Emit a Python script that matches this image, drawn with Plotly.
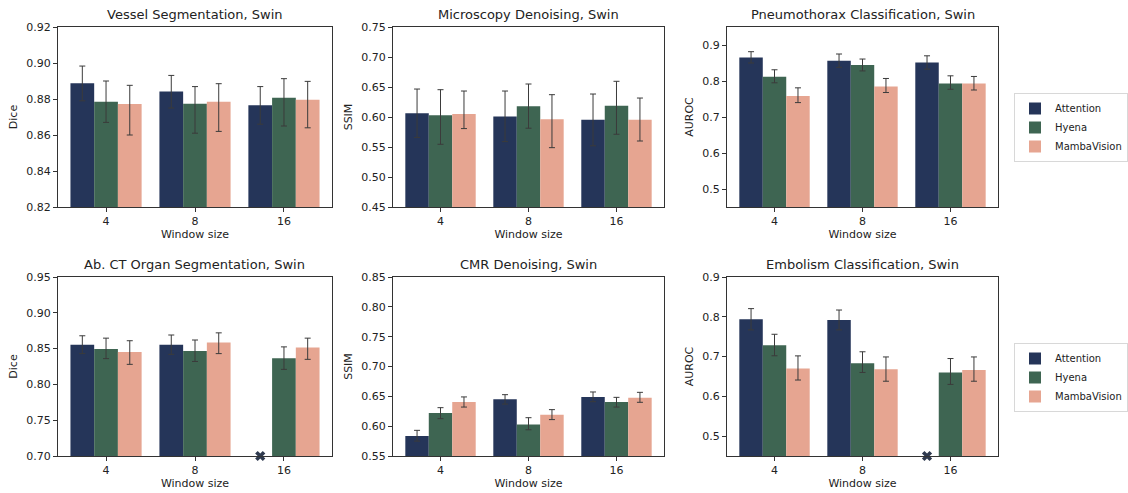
import plotly.graph_objects as go

# ---------------- data ----------------
window_labels = ["4", "8", "16"]
models = ["Attention", "Hyena", "MambaVision"]

titles = [
    "Vessel Segmentation, Swin",
    "Microscopy Denoising, Swin",
    "Pneumothorax Classification, Swin",
    "Ab. CT Organ Segmentation, Swin",
    "CMR Denoising, Swin",
    "Embolism Classification, Swin",
]
y_titles = ["Dice", "SSIM", "AUROC", "Dice", "SSIM", "AUROC"]

# Vessel Segmentation (Dice)
vessel_att = [0.8887, 0.8841, 0.8765]
vessel_hye = [0.8785, 0.8774, 0.8807]
vessel_mam = [0.8772, 0.8785, 0.8796]
vessel_att_hi = [0.8983, 0.8931, 0.8869]
vessel_hye_hi = [0.8900, 0.8869, 0.8913]
vessel_mam_hi = [0.8876, 0.8885, 0.8898]
vessel_att_lo = [0.8790, 0.8750, 0.8660]
vessel_hye_lo = [0.8670, 0.8610, 0.8650]
vessel_mam_lo = [0.8600, 0.8620, 0.8640]

# Microscopy Denoising (SSIM)
micro_att = [0.6064, 0.6008, 0.5953]
micro_hye = [0.6031, 0.6181, 0.6187]
micro_mam = [0.6048, 0.5964, 0.5953]
micro_att_hi = [0.6466, 0.6433, 0.6383]
micro_hye_hi = [0.6455, 0.6550, 0.6595]
micro_mam_hi = [0.6433, 0.6372, 0.6316]
micro_att_lo = [0.5660, 0.5590, 0.5520]
micro_hye_lo = [0.5545, 0.5813, 0.5712]
micro_mam_lo = [0.5807, 0.5489, 0.5600]

# Pneumothorax Classification (AUROC)
pneumo_att = [0.8656, 0.8563, 0.8516]
pneumo_hye = [0.8116, 0.8442, 0.7930]
pneumo_mam = [0.7586, 0.7847, 0.7930]
pneumo_att_hi = [0.8814, 0.8750, 0.8700]
pneumo_hye_hi = [0.8312, 0.8610, 0.8144]
pneumo_mam_hi = [0.7810, 0.8070, 0.8126]
pneumo_att_lo = [0.8500, 0.8380, 0.8330]
pneumo_hye_lo = [0.7950, 0.8280, 0.7770]
pneumo_mam_lo = [0.7400, 0.7680, 0.7750]

# Ab. CT Organ Segmentation (Dice); Attention at 16 missing
abct_att = [0.8553, 0.8553, None]
abct_hye = [0.8496, 0.8468, 0.8365]
abct_mam = [0.8454, 0.8585, 0.8515]
abct_att_hi = [0.8679, 0.8690, None]
abct_hye_hi = [0.8646, 0.8620, 0.8524]
abct_mam_hi = [0.8610, 0.8720, 0.8646]
abct_att_lo = [0.8430, 0.8420, None]
abct_hye_lo = [0.8360, 0.8320, 0.8210]
abct_mam_lo = [0.8280, 0.8430, 0.8350]

# CMR Denoising (SSIM)
cmr_att = [0.5835, 0.6450, 0.6489]
cmr_hye = [0.6220, 0.6030, 0.6405]
cmr_mam = [0.6405, 0.6193, 0.6478]
cmr_att_hi = [0.5930, 0.6528, 0.6573]
cmr_hye_hi = [0.6310, 0.6142, 0.6483]
cmr_mam_hi = [0.6490, 0.6277, 0.6567]
cmr_att_lo = [0.5750, 0.6370, 0.6410]
cmr_hye_lo = [0.6126, 0.5940, 0.6320]
cmr_mam_lo = [0.6320, 0.6110, 0.6400]

# Embolism Classification (AUROC); Attention at 16 missing
embol_att = [0.7937, 0.7920, None]
embol_hye = [0.7285, 0.6833, 0.6598]
embol_mam = [0.6699, 0.6680, 0.6665]
embol_att_hi = [0.8205, 0.8170, None]
embol_hye_hi = [0.7560, 0.7120, 0.6950]
embol_mam_hi = [0.7017, 0.6990, 0.6990]
embol_att_lo = [0.7670, 0.7670, None]
embol_hye_lo = [0.7020, 0.6600, 0.6300]
embol_mam_lo = [0.6410, 0.6380, 0.6380]

y_ranges = [[0.82, 0.92], [0.45, 0.75], [0.45, 0.95], [0.70, 0.95], [0.55, 0.85], [0.45, 0.90]]
y_ticks = [
    [0.82, 0.84, 0.86, 0.88, 0.90, 0.92],
    [0.45, 0.50, 0.55, 0.60, 0.65, 0.70, 0.75],
    [0.5, 0.6, 0.7, 0.8, 0.9],
    [0.70, 0.75, 0.80, 0.85, 0.90, 0.95],
    [0.55, 0.60, 0.65, 0.70, 0.75, 0.80, 0.85],
    [0.5, 0.6, 0.7, 0.8, 0.9],
]
y_formats = [".2f", ".2f", ".1f", ".2f", ".2f", ".1f"]

panels = [
    ([vessel_att, vessel_hye, vessel_mam], [vessel_att_hi, vessel_hye_hi, vessel_mam_hi], [vessel_att_lo, vessel_hye_lo, vessel_mam_lo]),
    ([micro_att, micro_hye, micro_mam], [micro_att_hi, micro_hye_hi, micro_mam_hi], [micro_att_lo, micro_hye_lo, micro_mam_lo]),
    ([pneumo_att, pneumo_hye, pneumo_mam], [pneumo_att_hi, pneumo_hye_hi, pneumo_mam_hi], [pneumo_att_lo, pneumo_hye_lo, pneumo_mam_lo]),
    ([abct_att, abct_hye, abct_mam], [abct_att_hi, abct_hye_hi, abct_mam_hi], [abct_att_lo, abct_hye_lo, abct_mam_lo]),
    ([cmr_att, cmr_hye, cmr_mam], [cmr_att_hi, cmr_hye_hi, cmr_mam_hi], [cmr_att_lo, cmr_hye_lo, cmr_mam_lo]),
    ([embol_att, embol_hye, embol_mam], [embol_att_hi, embol_hye_hi, embol_mam_hi], [embol_att_lo, embol_hye_lo, embol_mam_lo]),
]

# ---------------- style ----------------
colors = ["#253559", "#3e6552", "#e6a591"]
err_color = "#3b3b3b"
axis_color = "#333333"
font_family = "DejaVu Sans"

W, H = 1128, 493
col_px = [(58, 332), (393, 664), (727, 998)]
row_px = [(27, 207), (277, 456)]
group_width = 0.8

fig = go.Figure()
x_pos = list(range(len(window_labels)))

for p, (means, his, los) in enumerate(panels):
    r, c = divmod(p, 3)
    ax_id = "" if p == 0 else str(p + 1)
    xa, ya = "x" + ax_id, "y" + ax_id
    legend_name = "legend" if r == 0 else "legend2"
    for m, model in enumerate(models):
        mean = means[m]
        plus = [None if v is None else h - v for v, h in zip(mean, his[m])]
        minus = [None if v is None else v - l for v, l in zip(mean, los[m])]
        fig.add_trace(go.Bar(
            x=x_pos, y=mean, name=model, xaxis=xa, yaxis=ya,
            marker=dict(color=colors[m], line=dict(width=0)),
            error_y=dict(type="data", symmetric=False, array=plus, arrayminus=minus,
                         color=err_color, thickness=1, width=3),
            showlegend=(c == 0), legend=legend_name, legendgroup=model + str(r),
        ))
        # missing values marked with an X on the x-axis
        miss = [i for i, v in enumerate(mean) if v is None]
        if miss:
            offset = (m - (len(models) - 1) / 2) * group_width / len(models)
            fig.add_trace(go.Scatter(
                x=[i + offset for i in miss], y=[y_ranges[p][0]] * len(miss),
                xaxis=xa, yaxis=ya, mode="markers", cliponaxis=False,
                marker=dict(symbol="x", size=9, color="#2f3a4f",
                            line=dict(width=0)),
                showlegend=False, hoverinfo="skip",
            ))

    x0, x1 = col_px[c]
    y0, y1 = row_px[r]
    xd = [x0 / W, x1 / W]
    yd = [1 - y1 / H, 1 - y0 / H]
    xkey = "xaxis" + ax_id
    ykey = "yaxis" + ax_id
    fig.update_layout({
        xkey: dict(domain=xd, anchor=ya, range=[-0.54, 2.54], tickmode="array",
                   tickvals=x_pos, ticktext=window_labels, automargin=False,
                   showline=True, mirror=True, linecolor=axis_color, linewidth=1,
                   ticks="outside", ticklen=4, tickcolor=axis_color, showgrid=False,
                   zeroline=False,
                   title=dict(text="Window size", standoff=1,
                              font=dict(size=11, color="#222", family=font_family)),
                   tickfont=dict(size=11, color="#222", family=font_family)),
        ykey: dict(domain=yd, anchor=xa, range=y_ranges[p], tickmode="array",
                   tickvals=y_ticks[p], tickformat=y_formats[p], automargin=False,
                   showline=True, mirror=True, linecolor=axis_color, linewidth=1,
                   ticks="outside", ticklen=4, tickcolor=axis_color, showgrid=False,
                   zeroline=False,
                   title=dict(text=y_titles[p], standoff=6,
                              font=dict(size=11, color="#222", family=font_family)),
                   tickfont=dict(size=11, color="#222", family=font_family)),
    })
    fig.add_annotation(
        text=titles[p], xref="paper", yref="paper",
        x=(xd[0] + xd[1]) / 2, y=yd[1], xanchor="center", yanchor="bottom",
        yshift=3, showarrow=False,
        font=dict(size=13, color="#222", family=font_family),
    )

legend_style = dict(
    x=1014 / W, xanchor="left", yanchor="top",
    bgcolor="white", bordercolor="#d8d8d8", borderwidth=1,
    font=dict(size=10, color="#222", family=font_family),
    tracegroupgap=0, itemwidth=30, itemsizing="constant",
)
fig.update_layout(
    width=W, height=H,
    margin=dict(l=0, r=0, t=0, b=0, autoexpand=False),
    paper_bgcolor="white", plot_bgcolor="white",
    barmode="group", bargap=1 - group_width, bargroupgap=0,
    font=dict(family=font_family, color="#222"),
    legend=dict(y=1 - 93 / H, **legend_style),
    legend2=dict(y=1 - 343 / H, **legend_style),
)

fig.write_html(
    "out.html",
    config={"displayModeBar": False},
    post_script="document.body.style.margin='0';document.body.style.overflow='hidden';",
)
